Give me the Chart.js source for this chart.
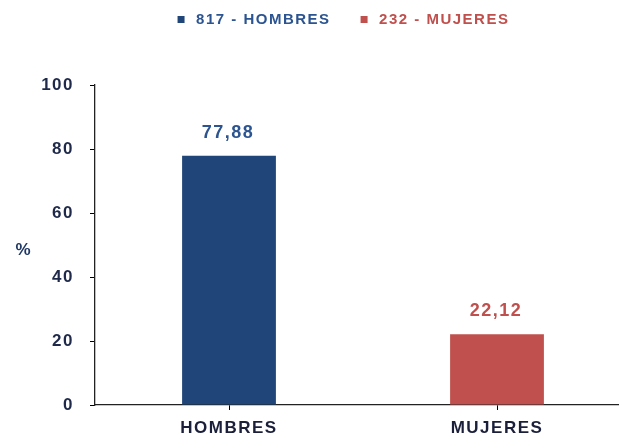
<!DOCTYPE html>
<html>
<head>
<meta charset="utf-8">
<script src="https://cdn.jsdelivr.net/npm/chart.js@4"></script>
<style>
  html, body { margin: 0; padding: 0; background: #fff; overflow: hidden; }
  #wrap { width: 619px; height: 438px; overflow: hidden; position: relative; }
  #inner { width: 631px; height: 438px; position: absolute; left: 0; top: 0; }
</style>
</head>
<body>
<div id="wrap"><div id="inner"><canvas id="c"></canvas></div></div>
<script>
// ---- data ----
const categories = ['HOMBRES', 'MUJERES'];
const seriesLabels = ['817 - HOMBRES', '232 - MUJERES'];
const percentages = [77.88, 22.12];
const yTicks = [0, 20, 40, 60, 80, 100];
const yAxisTitle = '%';
const barColors = ['#1F4579', '#C0504D'];
const labelColors = ['#2B5490', '#C0504D'];

const FONT = '"Liberation Sans", Arial, sans-serif';
const SPACING = '1.5px';

const datasets = percentages.map((v, i) => ({
  label: seriesLabels[i],
  data: categories.map((_, j) => (j === i ? v : null)),
  backgroundColor: barColors[i],
  borderWidth: 0,
  barPercentage: 0.35,
  categoryPercentage: 1
}));

const spacingPlugin = {
  id: 'spacing',
  beforeUpdate(chart) { chart.ctx.letterSpacing = SPACING; },
  beforeLayout(chart) { chart.ctx.letterSpacing = SPACING; },
  beforeDraw(chart) { chart.ctx.letterSpacing = SPACING; }
};

const valueLabels = {
  id: 'valueLabels',
  afterDatasetsDraw(chart) {
    const ctx = chart.ctx;
    ctx.save();
    ctx.letterSpacing = SPACING;
    ctx.font = 'bold 18px ' + FONT;
    ctx.textAlign = 'center';
    ctx.textBaseline = 'middle';
    chart.data.datasets.forEach((ds, di) => {
      const meta = chart.getDatasetMeta(di);
      meta.data.forEach((el, i) => {
        const v = ds.data[i];
        if (v === null || v === undefined) return;
        ctx.fillStyle = labelColors[di];
        ctx.fillText(v.toFixed(2).replace('.', ','), el.x - 1, el.y - 23);
      });
    });
    ctx.restore();
  }
};

const yTitle = {
  id: 'yTitle',
  afterDraw(chart) {
    const ctx = chart.ctx;
    const a = chart.chartArea;
    ctx.save();
    ctx.letterSpacing = '0px';
    ctx.font = 'bold 17px ' + FONT;
    ctx.fillStyle = '#1F3864';
    ctx.textAlign = 'center';
    ctx.textBaseline = 'middle';
    ctx.fillText(yAxisTitle, 23, (a.top + a.bottom) / 2 + 5);
    ctx.restore();
  }
};

new Chart(document.getElementById('c'), {
  type: 'bar',
  data: { labels: categories, datasets },
  plugins: [spacingPlugin, valueLabels, yTitle],
  options: {
    responsive: true,
    maintainAspectRatio: false,
    animation: false,
    devicePixelRatio: 1,
    layout: { padding: { left: 52, right: 0, top: -14, bottom: 0 } },
    datasets: { bar: { grouped: false } },
    plugins: {
      tooltip: { enabled: false },
      title: {
        display: true,
        text: '',
        weight: 500,
        font: { size: 1, lineHeight: 1 },
        padding: { top: 0, bottom: 47 }
      },
      legend: {
        display: true,
        position: 'top',
        labels: {
          usePointStyle: true,
          pointStyle: 'rect',
          boxWidth: 15,
          boxHeight: 7,
          padding: 26,
          font: { family: FONT, size: 15, weight: 'bold' },
          generateLabels(chart) {
            return chart.data.datasets.map((ds, i) => ({
              text: ds.label,
              fillStyle: barColors[i],
              strokeStyle: barColors[i],
              lineWidth: 0,
              fontColor: labelColors[i],
              pointStyle: 'rect',
              datasetIndex: i,
              hidden: false
            }));
          }
        }
      }
    },
    scales: {
      x: {
        offset: true,
        afterFit(scale) { scale.height = 33; },
        grid: {
          display: true,
          drawOnChartArea: false,
          drawTicks: true,
          tickLength: 5,
          offset: false,
          color: '#000'
        },
        border: { display: true, color: '#222', width: 1.3 },
        ticks: {
          padding: 8,
          color: '#1B1F3A',
          font: { family: FONT, size: 17, weight: 'bold' },
          maxRotation: 0
        }
      },
      y: {
        min: 0,
        max: 100,
        afterFit(scale) {
          scale.width = 95 - 52;
          scale._computeLabelArea = () => undefined;
        },
        afterBuildTicks(scale) { scale.ticks = yTicks.map(v => ({ value: v })); },
        grid: {
          display: true,
          drawOnChartArea: false,
          drawTicks: true,
          tickLength: 5,
          color: '#000'
        },
        border: { display: true, color: '#222', width: 1.3 },
        ticks: {
          padding: 16,
          color: '#1F2A4A',
          font: { family: FONT, size: 17, weight: 'bold' }
        }
      }
    }
  }
});
</script>
</body>
</html>
